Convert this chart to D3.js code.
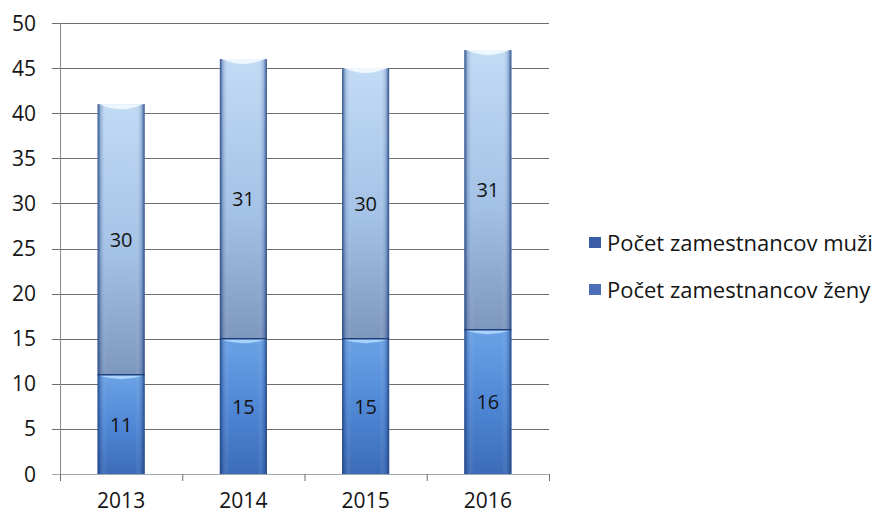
<!DOCTYPE html>
<html><head><meta charset="utf-8">
<script src="https://cdn.jsdelivr.net/npm/d3@7"></script>
<style>body{margin:0;background:#fff}svg{display:block}text{font-family:"Open Sans",Lato,sans-serif}</style>
</head><body>
<script>
const years = ["2013","2014","2015","2016"];
const zeny = [11,15,15,16];
const muzi = [30,31,30,31];
const seriesNames = ["Počet zamestnancov muži","Počet zamestnancov ženy"];
const yTicks = [0,5,10,15,20,25,30,35,40,45,50];

const W=875,H=515;
const svg=d3.select("body").append("svg").attr("width",W).attr("height",H);
const m={l:60,r:326,t:23,b:41};
const x=d3.scaleBand().domain(years).range([m.l,W-m.r]).paddingInner(0.615).paddingOuter(0.3075);
const y=d3.scaleLinear().domain([0,50]).range([H-m.b,m.t]);

const defs=svg.append("defs");
function grad(id,stops,vertical){
  const g=defs.append("linearGradient").attr("id",id);
  if(vertical) g.attr("x1",0).attr("y1",0).attr("x2",0).attr("y2",1); else g.attr("x1",0).attr("y1",0).attr("x2",1).attr("y2",0);
  stops.forEach(s=>g.append("stop").attr("offset",s[0]).attr("stop-color",s[1]).attr("stop-opacity",s[2]==null?1:s[2]));
}
grad("gTop",[[0,"#c2dbf5"],[0.55,"#a4c2e6"],[1,"#7e97bd"]],true);
grad("gBot",[[0,"#6ba2e6"],[0.5,"#5088d6"],[1,"#3c6cb8"]],true);
grad("gSide",[[0,"#1f3e78",0.9],[0.07,"#2a4f8f",0.25],[0.2,"#ffffff",0],[0.8,"#ffffff",0],[0.93,"#2a4f8f",0.25],[1,"#1f3e78",0.9]],false);

// grid
svg.append("g").selectAll("line").data(yTicks).join("line")
  .attr("x1",m.l-8).attr("x2",W-m.r).attr("y1",d=>Math.round(y(d))+0.5).attr("y2",d=>Math.round(y(d))+0.5)
  .attr("stroke",d=>d===0?"#a0a8b0":"#6e6e6e").attr("stroke-width",d=>d===0?1.2:1);
// y axis line
svg.append("line").attr("x1",m.l+0.5).attr("x2",m.l+0.5).attr("y1",y(50)).attr("y2",y(0)+6).attr("stroke","#8a8a8a");
// x ticks
const bounds=[m.l].concat(years.map((d,i)=>m.l+(i+1)*(W-m.r-m.l)/years.length));
svg.append("g").selectAll("line").data(bounds).join("line")
  .attr("x1",d=>d+0.5).attr("x2",d=>d+0.5).attr("y1",y(0)).attr("y2",y(0)+7).attr("stroke","#6e6e6e");

// y labels
svg.append("g").selectAll("text").data(yTicks).join("text")
  .attr("x",m.l-24).attr("y",d=>y(d)).attr("dy","0.36em").attr("text-anchor","end")
  .attr("font-size",21).attr("fill","#141414").text(d=>d);
// x labels
svg.append("g").selectAll("text").data(years).join("text")
  .attr("x",d=>x(d)+x.bandwidth()/2).attr("y",y(0)+34).attr("text-anchor","middle")
  .attr("font-size",21).attr("fill","#141414").text(d=>d);

const bw=x.bandwidth();
const data=years.map((d,i)=>({year:d,z:zeny[i],m:muzi[i]}));
const g=svg.append("g");
data.forEach(d=>{
  const x0=x(d.year);
  g.append("rect").attr("x",x0).attr("y",y(d.z)).attr("width",bw).attr("height",y(0)-y(d.z)).attr("fill","url(#gBot)");
  g.append("rect").attr("x",x0).attr("y",y(d.z)).attr("width",bw).attr("height",y(0)-y(d.z)).attr("fill","url(#gSide)");
  g.append("rect").attr("x",x0).attr("y",y(d.z+d.m)).attr("width",bw).attr("height",y(d.z)-y(d.z+d.m)).attr("fill","url(#gTop)");
  g.append("rect").attr("x",x0).attr("y",y(d.z+d.m)).attr("width",bw).attr("height",y(d.z)-y(d.z+d.m)).attr("fill","url(#gSide)");
  g.append("line").attr("x1",x0).attr("x2",x0+bw).attr("y1",y(d.z)).attr("y2",y(d.z)).attr("stroke","#1f3e78").attr("stroke-width",1.5);
  g.append("path").attr("d",`M${x0+2},${y(d.z)+1} Q${x0+bw/2},${y(d.z)+8} ${x0+bw-2},${y(d.z)+1} Z`).attr("fill","#a9d3fa");
  g.append("path").attr("d",`M${x0+2},${y(d.z+d.m)} Q${x0+bw/2},${y(d.z+d.m)+10} ${x0+bw-2},${y(d.z+d.m)} Z`).attr("fill","#eef6fe");
  g.append("text").attr("x",x0+bw/2).attr("y",y(d.z/2)).attr("dy","0.36em").attr("text-anchor","middle")
    .attr("font-size",20).attr("fill","#141414").text(d.z);
  g.append("text").attr("x",x0+bw/2).attr("y",y(d.z+d.m/2)).attr("dy","0.36em").attr("text-anchor","middle")
    .attr("font-size",20).attr("fill","#141414").text(d.m);
});

// legend
const leg=svg.append("g");
const legColors=["#3b5ca6","#4a6fb8"];
seriesNames.forEach((n,i)=>{
  const ly=243+i*47;
  leg.append("rect").attr("x",589).attr("y",ly-6).attr("width",12).attr("height",11).attr("fill",legColors[i]);
  leg.append("text").attr("x",607).attr("y",ly).attr("dy","0.36em").attr("font-size",22).attr("fill","#141414").text(n);
});
</script>
</body></html>
